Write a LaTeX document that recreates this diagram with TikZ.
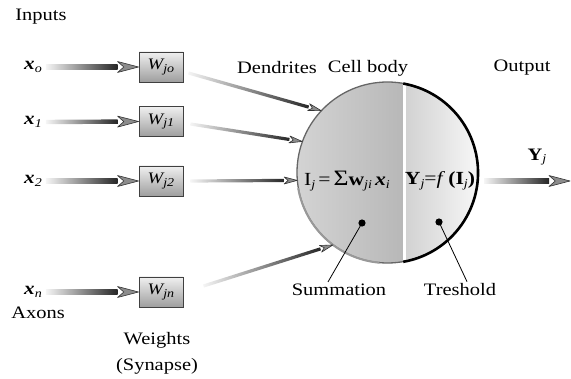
\documentclass[tikz,border=0pt]{standalone}
\usepackage{fontspec}
\setmainfont[FakeStretch=1.17]{Liberation Serif}
\usepackage{tikz}
\usetikzlibrary{positioning, calc}

% small lowered index, as in the figure
\newcommand{\lowsub}[1]{\raisebox{-0.35ex}{\fontsize{12}{12}\selectfont\mdseries\itshape #1}}

% shaded arrow: from, to, shaft half width, head half width, head length
\newcommand{\shadearrow}[5]{%
  \coordinate (sa-a) at (#1);
  \coordinate (sa-b) at (#2);
  \coordinate (sa-c) at ($(sa-b)!#5!(sa-a)$);
  \shade[left color=black!4, right color=black!85]
    ($(sa-a)!#3!90:(sa-b)$) -- ($(sa-c)!#3!90:(sa-b)$) --
    ($(sa-c)!#3!-90:(sa-b)$) -- ($(sa-a)!#3!-90:(sa-b)$) -- cycle;
  \filldraw[fill=black!45, draw=black!80, line width=0.6pt, line join=round]
    ($(sa-c)!#4!90:(sa-b)$) -- (sa-b) -- ($(sa-c)!#4!-90:(sa-b)$) --
    ($(sa-c)!0.3!(sa-b)$) -- cycle;
}

\begin{document}
\begin{tikzpicture}[x=1pt, y=1pt,
    label text/.style={font=\fontsize{17.5}{26}\selectfont, inner sep=1pt},
    input node/.style={font=\fontsize{18}{20}\selectfont\bfseries\itshape, inner sep=2pt},
    weight box/.style={draw=black!75, line width=0.9pt, top color=black!6, bottom color=black!38,
        minimum width=44pt, minimum height=30pt, inner sep=0pt, font=\fontsize{16}{18}\selectfont\itshape}
]
\useasboundingbox (0,0) rectangle (571,378);

% inputs and weights
\node[input node] (x0) at (33,311) {x\lowsub{o}};
\node[input node] (x1) at (33,256) {x\lowsub{1}};
\node[input node] (x2) at (33,197) {x\lowsub{2}};
\node[input node] (xn) at (33,86) {x\lowsub{n}};

\node[weight box] (w0) at (161,311) {W\lowsub{jo}};
\node[weight box] (w1) at (161,256.5) {W\lowsub{j1}};
\node[weight box] (w2) at (161,197) {W\lowsub{j2}};
\node[weight box] (wn) at (161,86) {W\lowsub{jn}};

\shadearrow{$(x0.east)+(2,0)$}{w0.west}{2.2pt}{5.5pt}{21pt}
\shadearrow{$(x1.east)+(2,0)$}{w1.west}{2.2pt}{5.5pt}{21pt}
\shadearrow{$(x2.east)+(2,0)$}{w2.west}{2.2pt}{5.5pt}{21pt}
\shadearrow{$(xn.east)+(2,0)$}{wn.west}{2.2pt}{5.5pt}{21pt}

% cell body
\node[circle, minimum size=181pt, inner sep=0pt] (cell) at (387.5,205.5) {};
\begin{scope}
  \clip (cell.center) circle[radius=90.5];
  \shade[left color=black!17, middle color=black!33, right color=black!28] (296,110) rectangle (404,300);
  \shade[left color=black!18, right color=black!3] (404,110) rectangle (479,300);
  \draw[white, line width=3pt] (404,110) -- (404,300);
\end{scope}
\draw[black!60, line width=1.3pt] (cell.center) circle[radius=90.5];
\draw[black!40, line width=2pt] (cell.190) arc[start angle=190, end angle=265, radius=90.5];
\draw[black, line width=2.6pt] (cell.-80) arc[start angle=-80, end angle=80, radius=90.5];

\node[label text] (sumf) at (347,197)
  {\fontsize{18.5}{20}\selectfont I\lowsub{j}\,=\,{\fontsize{22}{22}\selectfont Σ}\textbf{w}\lowsub{ji}\,\textbf{\textit{x}}\lowsub{i}};
\node[label text] (actf) at (440,197)
  {\fontsize{18.5}{20}\selectfont\textbf{Y}\lowsub{j}=\textit{f}\,\textbf{(I}\lowsub{j}\textbf{)}};

% dendrites
\shadearrow{$(w0.east)+(5,-6)$}{cell.137}{1.6pt}{3.5pt}{13pt}
\shadearrow{$(w1.east)+(7,-2.5)$}{cell.160}{1.6pt}{3.5pt}{13pt}
\shadearrow{$(w2.east)+(7,0)$}{cell.185}{1.6pt}{3.5pt}{13pt}
\shadearrow{$(wn.east)+(20,6)$}{cell.233}{1.6pt}{3.5pt}{13pt}

% output
\coordinate (yend) at (570,197);
\shadearrow{$(cell.east)+(6,-8.5)$}{yend}{2.2pt}{5.5pt}{21pt}
\node[label text] (ylabel) at (537,221) {\textbf{Y}\lowsub{j}};

% summation and treshold markers
\coordinate (sdot) at (362,155);
\coordinate (tdot) at (439,156);
\fill (sdot) circle[radius=3.6];
\fill (tdot) circle[radius=3.6];
\node[label text] (summation) at (339,88) {Summation};
\node[label text] (treshold) at (460,88) {Treshold};
\draw[line width=0.8pt] (sdot) -- ($(summation.north)+(-11,1)$);
\draw[line width=0.8pt] (tdot) -- ($(treshold.north)+(7,1)$);

% captions
\node[label text] (inputs) at (41,361) {Inputs};
\node[label text] (dendrites) at (277,310) {Dendrites};
\node[label text] (cellbody) at (368,310) {Cell body};
\node[label text] (output) at (522,310) {Output};
\node[label text] (axons) at (38,65) {Axons};
\node[label text, align=center] (weights) at (157,25) {Weights\\(Synapse)};

\end{tikzpicture}
\end{document}
